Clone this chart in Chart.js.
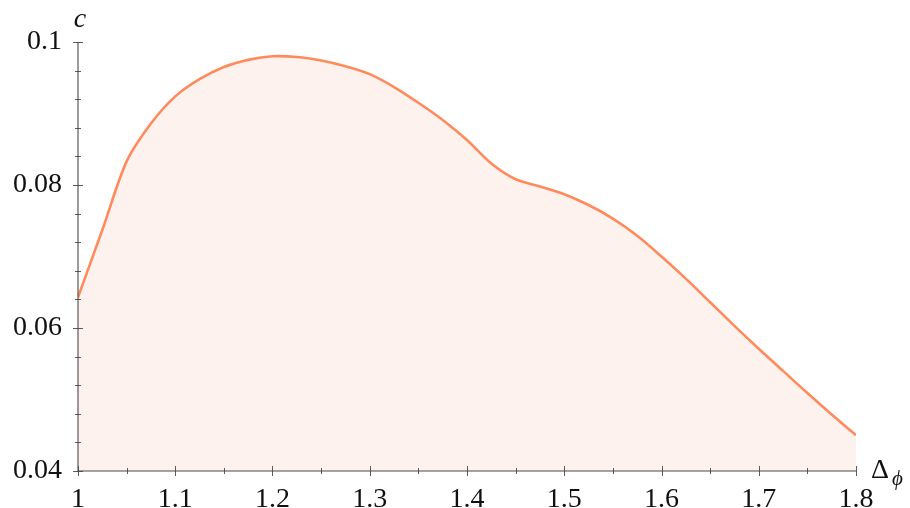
<!DOCTYPE html>
<html>
<head>
<meta charset="utf-8">
<script src="https://cdn.jsdelivr.net/npm/chart.js@4.4.1/dist/chart.umd.min.js"></script>
<style>
  html, body { margin: 0; padding: 0; background: #ffffff; }
  #wrap { width: 910px; height: 508px; position: relative; }
</style>
</head>
<body>
<div id="wrap"><canvas id="chart"></canvas></div>
<script>
// Δφ samples and the corresponding c values
const deltaPhi = [1.000, 1.025, 1.050, 1.075, 1.100, 1.125, 1.150, 1.175, 1.200, 1.225, 1.250, 1.275,
                  1.300, 1.325, 1.350, 1.375, 1.400, 1.425, 1.450, 1.475, 1.500, 1.525, 1.550, 1.575,
                  1.600, 1.625, 1.650, 1.675, 1.700, 1.725, 1.750, 1.775, 1.800];
const cValues  = [0.0643, 0.0737, 0.0833, 0.0886, 0.0924, 0.0948, 0.0965, 0.0975, 0.0980, 0.0979, 0.0974, 0.0966,
                  0.0955, 0.0937, 0.0915, 0.0891, 0.0863, 0.0830, 0.0808, 0.0798, 0.0787, 0.0772, 0.0753, 0.0729,
                  0.0700, 0.0669, 0.0636, 0.0603, 0.0571, 0.0540, 0.0509, 0.0479, 0.0450];

// axis ticks
const xTickValues = [1, 1.1, 1.2, 1.3, 1.4, 1.5, 1.6, 1.7, 1.8];
const xTickLabels = ['1', '1.1', '1.2', '1.3', '1.4', '1.5', '1.6', '1.7', '1.8'];
const xMinorTicks = [1.05, 1.15, 1.25, 1.35, 1.45, 1.55, 1.65, 1.75];
const yTickValues = [0.04, 0.06, 0.08, 0.1];
const yTickLabels = ['0.04', '0.06', '0.08', '0.1'];
const yMinorTicks = [0.044, 0.048, 0.052, 0.056, 0.064, 0.068, 0.072, 0.076, 0.084, 0.088, 0.092, 0.096];

const SERIF = '"Liberation Serif", "DejaVu Serif", serif';
const AXIS_COLOR = '#4a4a4a';

// axis lines, crossing tick marks and axis titles, drawn over the filled area
const axesPlugin = {
  id: 'texAxes',
  afterDatasetsDraw(chart) {
    const { ctx, chartArea: a, scales: { x, y } } = chart;
    ctx.save();
    ctx.strokeStyle = AXIS_COLOR;
    ctx.lineWidth = 1.1;
    ctx.beginPath();
    ctx.moveTo(a.left, a.top);
    ctx.lineTo(a.left, a.bottom);
    ctx.lineTo(a.right, a.bottom);
    ctx.stroke();

    ctx.lineWidth = 0.9;
    const vTick = (v, len) => {
      const px = Math.round(x.getPixelForValue(v)) + 0.5;
      ctx.beginPath();
      ctx.moveTo(px, a.bottom - len);
      ctx.lineTo(px, a.bottom + len);
      ctx.stroke();
    };
    const hTick = (v, len) => {
      const py = Math.round(y.getPixelForValue(v)) + 0.5;
      ctx.beginPath();
      ctx.moveTo(a.left - len, py);
      ctx.lineTo(a.left + len, py);
      ctx.stroke();
    };
    xTickValues.forEach(v => vTick(v, 5));
    xMinorTicks.forEach(v => vTick(v, 3));
    yTickValues.forEach(v => hTick(v, 5));
    yMinorTicks.forEach(v => hTick(v, 3));

    ctx.fillStyle = '#111';
    ctx.textBaseline = 'alphabetic';
    ctx.textAlign = 'center';
    ctx.font = 'italic 28px ' + SERIF;
    ctx.fillText('c', a.left + 2, a.top - 15);

    ctx.textAlign = 'left';
    ctx.font = '28px ' + SERIF;
    ctx.fillText('Δ', a.right + 15, a.bottom + 7);
    ctx.font = 'italic 21px ' + SERIF;
    ctx.fillText('ϕ', a.right + 36, a.bottom + 14);
    ctx.restore();
  }
};

new Chart(document.getElementById('chart'), {
  type: 'line',
  data: {
    labels: deltaPhi,
    datasets: [{
      data: deltaPhi.map((d, i) => ({ x: d, y: cValues[i] })),
      borderColor: '#ff8a5c',
      borderWidth: 2.6,
      backgroundColor: 'rgba(250, 140, 110, 0.11)',
      fill: 'start',
      tension: 0.3,
      pointRadius: 0
    }]
  },
  options: {
    responsive: true,
    maintainAspectRatio: false,
    animation: false,
    layout: { padding: { top: 42, right: 54, left: 0, bottom: 0 } },
    plugins: { legend: { display: false }, tooltip: { enabled: false } },
    scales: {
      x: {
        type: 'linear',
        min: 1,
        max: 1.8,
        grid: { display: false, drawTicks: false },
        border: { display: false },
        afterBuildTicks: s => { s.ticks = xTickValues.map(v => ({ value: v })); },
        afterFit: s => { s.height = 37; },
        ticks: {
          autoSkip: false,
          maxRotation: 0,
          padding: 12,
          color: '#111',
          font: { family: SERIF, size: 28 },
          callback: (v, i) => xTickLabels[i]
        }
      },
      y: {
        type: 'linear',
        min: 0.04,
        max: 0.1,
        grid: { display: false, drawTicks: false },
        border: { display: false },
        afterBuildTicks: s => { s.ticks = yTickValues.map(v => ({ value: v })); },
        afterFit: s => { s.width = 78; },
        ticks: {
          autoSkip: false,
          padding: 16,
          color: '#111',
          font: { family: SERIF, size: 28 },
          callback: (v, i) => yTickLabels[i]
        }
      }
    }
  },
  plugins: [axesPlugin]
});
</script>
</body>
</html>
